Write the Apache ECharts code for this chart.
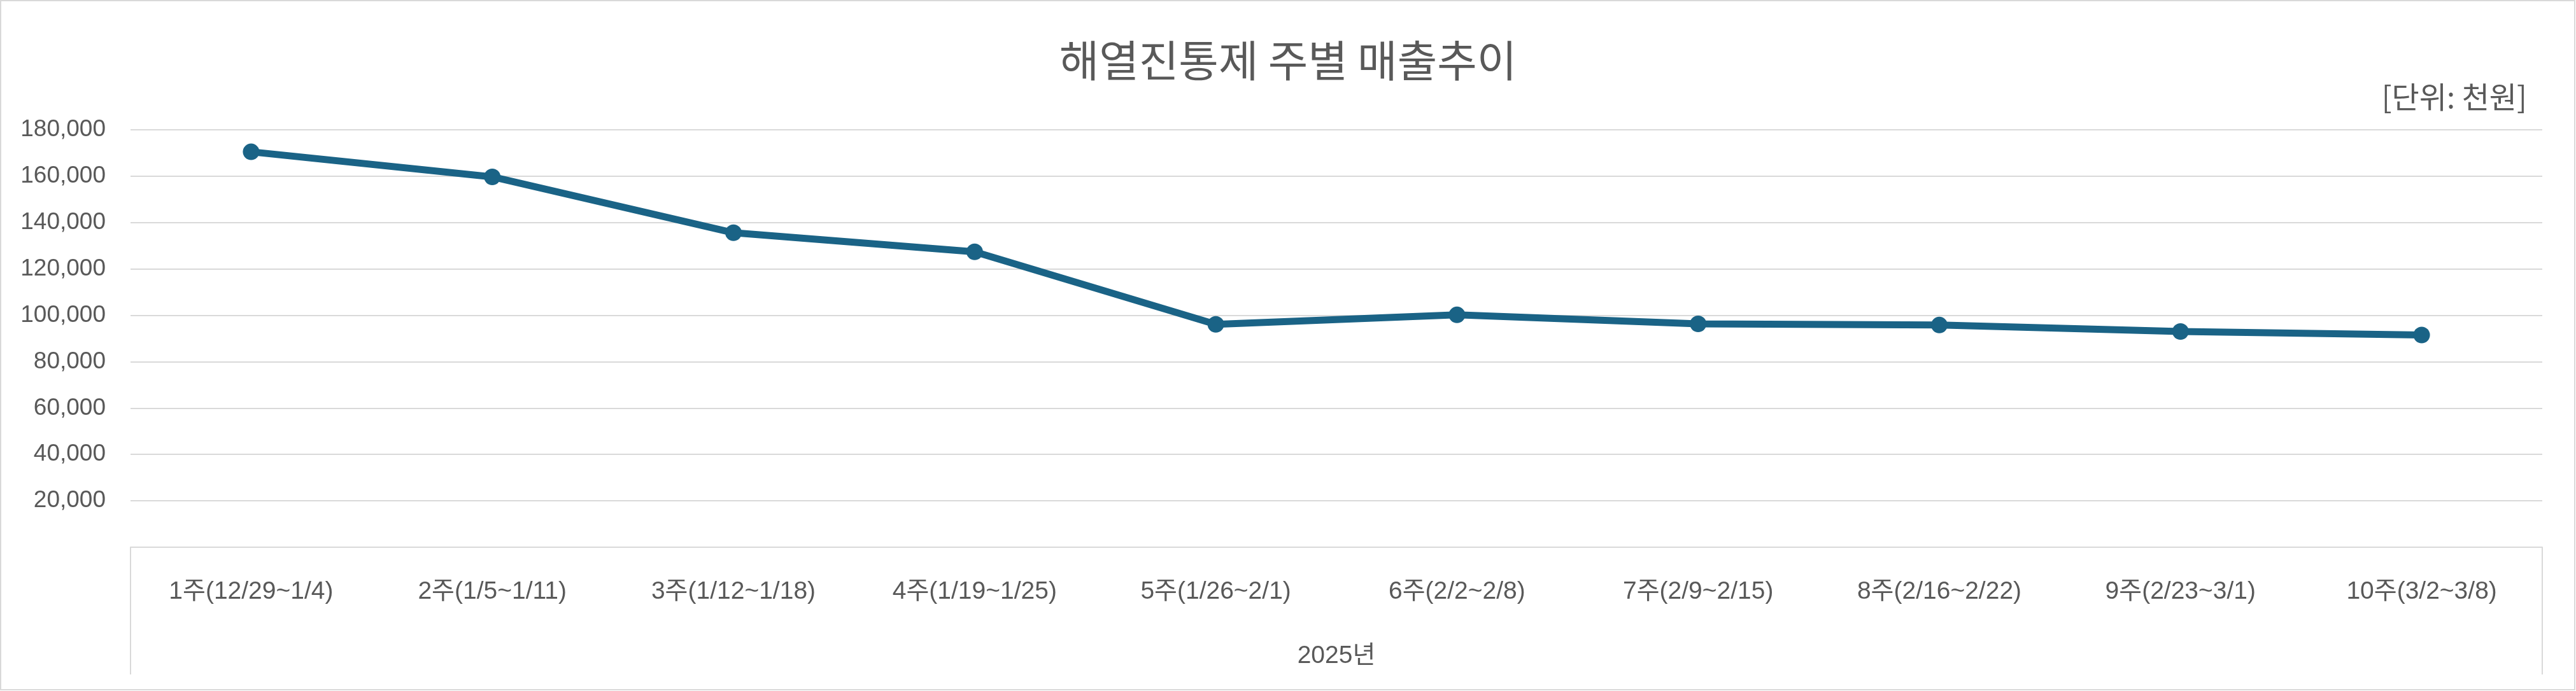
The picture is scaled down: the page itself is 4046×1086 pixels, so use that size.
<!DOCTYPE html>
<html>
<head>
<meta charset="utf-8">
<script src="https://cdn.jsdelivr.net/npm/echarts@6/dist/echarts.min.js"></script>
<style>
  html, body { margin: 0; padding: 0; background: #fff; }
  #chart { width: 4046px; height: 1086px; }
</style>
</head>
<body>
<div id="chart"></div>
<script>
const chartTitle = '해열진통제 주별 매출추이';
const unitLabel = '[단위: 천원]';
const yearLabel = '2025년';
const categories = [
  '1주(12/29~1/4)', '2주(1/5~1/11)', '3주(1/12~1/18)', '4주(1/19~1/25)', '5주(1/26~2/1)',
  '6주(2/2~2/8)', '7주(2/9~2/15)', '8주(2/16~2/22)', '9주(2/23~3/1)', '10주(3/2~3/8)'
];
const salesValues = [170500, 159700, 135600, 127400, 96100, 100200, 96300, 95800, 93000, 91500];
const yMin = 0, yMax = 180000, yStep = 20000;

const latin = '"Liberation Sans", "Noto Sans CJK KR", sans-serif';
const textColor = '#595959';
const gridColor = '#D9D9D9';
const lineColor = '#1A6386';

const W = 4046, H = 1086;
const gridLeft = 205, gridRight = 53, gridTop = 204, gridBottom = 226;

const chart = echarts.init(document.getElementById('chart'), null, { renderer: 'canvas' });
chart.setOption({
  backgroundColor: '#fff',
  animation: false,
  title: [
    { text: chartTitle, left: 'center', top: 56,
      textStyle: { fontSize: 68, fontWeight: 'normal', color: textColor, fontFamily: '"Noto Sans CJK KR", sans-serif' } },
    { text: unitLabel, right: 72, top: 124,
      textStyle: { fontSize: 47, fontWeight: 'normal', color: textColor, fontFamily: '"Noto Sans CJK KR", sans-serif' } }
  ],
  grid: { left: gridLeft, right: gridRight, top: gridTop, bottom: gridBottom, containLabel: false },
  xAxis: {
    type: 'category',
    data: categories,
    boundaryGap: true,
    axisLine: { show: true, lineStyle: { color: gridColor, width: 2 } },
    axisTick: { show: false },
    axisLabel: { color: textColor, fontSize: 39, fontFamily: latin, margin: 51, interval: 0 },
    name: yearLabel,
    nameLocation: 'middle',
    nameGap: 171,
    nameTextStyle: { color: textColor, fontSize: 39, fontFamily: latin, verticalAlign: 'middle' }
  },
  yAxis: {
    type: 'value',
    min: yMin, max: yMax, interval: yStep,
    axisLine: { show: false },
    axisTick: { show: false },
    splitLine: { lineStyle: { color: gridColor, width: 2 } },
    axisLabel: {
      color: textColor, fontSize: 37, fontFamily: latin, margin: 39,
      formatter: v => v === 0 ? '' : v.toLocaleString('en-US')
    }
  },
  series: [{
    type: 'line',
    data: salesValues,
    symbol: 'circle',
    symbolSize: 26,
    lineStyle: { color: lineColor, width: 11 },
    itemStyle: { color: lineColor },
    z: 5
  }],
  graphic: [
    { type: 'rect', shape: { x: 1, y: 1, width: W - 3, height: H - 3 },
      style: { fill: 'none', stroke: gridColor, lineWidth: 2 }, silent: true },
    { type: 'line', shape: { x1: gridLeft, y1: H - gridBottom, x2: gridLeft, y2: H - gridBottom + 200 },
      style: { stroke: gridColor, lineWidth: 2 }, silent: true },
    { type: 'line', shape: { x1: W - gridRight, y1: H - gridBottom, x2: W - gridRight, y2: H - gridBottom + 200 },
      style: { stroke: gridColor, lineWidth: 2 }, silent: true }
  ]
});
</script>
</body>
</html>
